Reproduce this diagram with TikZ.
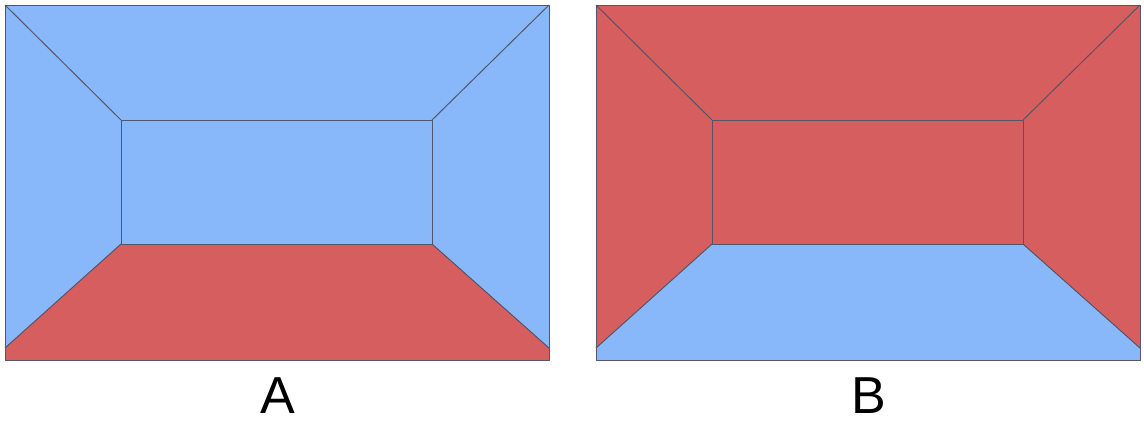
\documentclass[tikz,border=0pt]{standalone}
\usepackage{fontspec}
\setmainfont{Liberation Sans}
\definecolor{roomblue}{RGB}{136,183,250}
\definecolor{roomred}{RGB}{214,94,94}
\definecolor{roomedge}{RGB}{85,85,105}
\begin{document}
\begin{tikzpicture}[x=0.025cm, y=-0.025cm, every node/.style={font=\fontsize{37}{40}\selectfont},
    edge/.style={draw=roomedge, line width=0.7pt, line join=round}]
  \useasboundingbox (0,0) rectangle (1144,424);
  % two rooms: walls and floor swap colours
  \foreach \dx/\wall/\floor/\lbl in {0/roomblue/roomred/A, 591/roomred/roomblue/B} {
    \begin{scope}[xshift=\dx*0.025cm]
      \coordinate (otl) at (5,5);     \coordinate (otr) at (549,5);
      \coordinate (obr) at (549,348); \coordinate (obl) at (5,348);
      \coordinate (itl) at (121,120); \coordinate (itr) at (432,120);
      \coordinate (ibr) at (432,244); \coordinate (ibl) at (121,244);
      \fill[\wall] (5,5) rectangle (549,360);
      \fill[\floor] (ibl) -- (ibr) -- (obr) -- (549,360) -- (5,360) -- (obl) -- cycle;
      \draw[edge] (5,5) rectangle (549,360);
      \draw[edge] (itl) rectangle (ibr);
      \foreach \o/\i in {otl/itl, otr/itr, obr/ibr, obl/ibl} \draw[edge] (\o) -- (\i);
      \node (lbl\lbl) at (278,396) {\lbl};
    \end{scope}
  }
\end{tikzpicture}
\end{document}
